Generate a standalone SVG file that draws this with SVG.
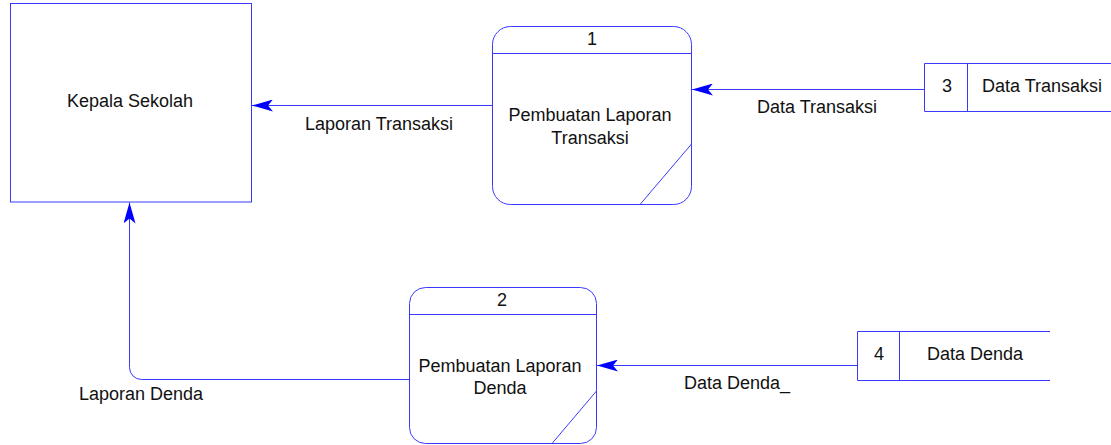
<svg xmlns="http://www.w3.org/2000/svg" width="1111" height="445" viewBox="0 0 1111 445">
  <style>
    .shape { fill: #ffffff; stroke: #3a3aff; stroke-width: 1; }
    .edge { fill: none; stroke: #3a3aff; stroke-width: 1; }
    .lbl { font-family: "Liberation Sans", Arial, sans-serif; font-size: 18px; fill: #111111; }
    .mid { text-anchor: middle; }
  </style>
  <defs>
    <marker id="arrow" viewBox="0 -6 21 12" refX="21" refY="0" markerWidth="21" markerHeight="12" markerUnits="userSpaceOnUse" orient="auto">
      <path d="M0,-6 L21,0 L0,6 L5,0 Z" fill="#0000ff"/>
    </marker>
  </defs>

  <rect width="1111" height="445" fill="#ffffff"/>

  <!-- external entity -->
  <g id="kepala-sekolah">
    <rect class="shape" x="10.5" y="3.5" width="241" height="198.5"/>
    <text class="lbl mid" x="130" y="107">Kepala Sekolah</text>
  </g>

  <!-- process 1 -->
  <g id="proses-1">
    <rect class="shape" x="492.5" y="26.5" width="199" height="178" rx="18" ry="18"/>
    <line class="edge" x1="492.5" y1="53.5" x2="691.5" y2="53.5"/>
    <line class="edge" x1="691.5" y1="144" x2="640" y2="204.5"/>
    <text class="lbl mid" x="592" y="45">1</text>
    <text class="lbl mid" x="590" y="121">Pembuatan Laporan</text>
    <text class="lbl mid" x="590" y="144">Transaksi</text>
  </g>

  <!-- process 2 -->
  <g id="proses-2">
    <rect class="shape" x="409.5" y="287.5" width="187" height="156" rx="16" ry="16"/>
    <line class="edge" x1="409.5" y1="314.5" x2="596.5" y2="314.5"/>
    <line class="edge" x1="596.5" y1="391" x2="552" y2="443.5"/>
    <text class="lbl mid" x="502" y="306">2</text>
    <text class="lbl mid" x="500" y="372">Pembuatan Laporan</text>
    <text class="lbl mid" x="500" y="394">Denda</text>
  </g>

  <!-- data store 3 -->
  <g id="store-3">
    <path class="edge" d="M1111,63.5 H924.5 V111.5 H1111 M967.5,63.5 V111.5"/>
    <text class="lbl mid" x="947" y="92">3</text>
    <text class="lbl" x="982" y="92">Data Transaksi</text>
  </g>

  <!-- data store 4 -->
  <g id="store-4">
    <path class="edge" d="M1050,331.5 H857.5 V380.5 H1050 M899.5,331.5 V380.5"/>
    <text class="lbl mid" x="879" y="360">4</text>
    <text class="lbl" x="927" y="360">Data Denda</text>
  </g>

  <!-- data flows -->
  <g id="connectors">
    <path class="edge" d="M924.5,89.5 H692" marker-end="url(#arrow)"/>
    <path class="edge" d="M492.5,105.5 H252" marker-end="url(#arrow)"/>
    <path class="edge" d="M857.5,365.5 H597" marker-end="url(#arrow)"/>
    <path class="edge" d="M409.5,379.5 H141.5 A12,12 0 0 1 129.5,367.5 V202.5" marker-end="url(#arrow)"/>
    <text class="lbl" x="305" y="130">Laporan Transaksi</text>
    <text class="lbl" x="757" y="113">Data Transaksi</text>
    <text class="lbl" x="684" y="389">Data Denda_</text>
    <text class="lbl" x="79" y="400">Laporan Denda</text>
  </g>
</svg>
